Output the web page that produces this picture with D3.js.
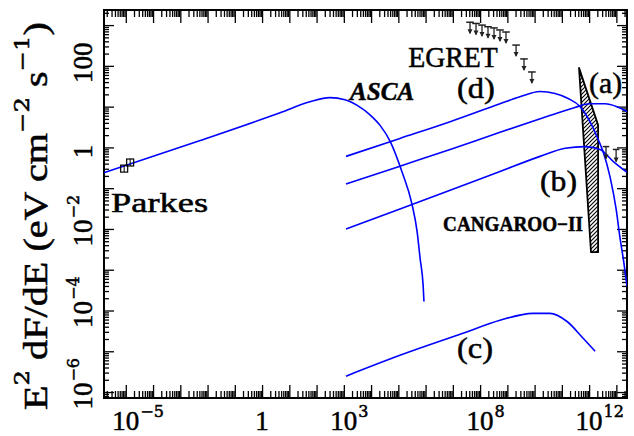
<!DOCTYPE html>
<html><head><meta charset="utf-8">
<script src="https://cdn.jsdelivr.net/npm/d3@7"></script>
<style>body{margin:0;background:#fff}svg{display:block}</style>
</head><body>
<svg id="chart" width="634" height="436"></svg>
<script>
// All values are log10: photon energy E in eV, E^2 dF/dE in eV cm^-2 s^-1.
const xTickExps = [-5, 0, 3, 8, 12];
const yTickExps = [2, 0, -2, -4, -6];

// Radio points (Parkes)
const parkesLogE = [-5.06, -4.84];
const parkesLogF = [-0.52, -0.37];

// Synchrotron model through the radio and ASCA X-ray data
const syncLogE = [-5.80, -2.27, 0.66, 1.76, 2.49, 3.04, 3.52, 3.96, 4.33, 4.70, 5.14, 5.50, 5.69, 5.80, 5.91, 5.94];
const syncLogF = [-0.62, 0.17, 0.85, 1.12, 1.22, 1.17, 1.02, 0.80, 0.54, 0.15, -0.61, -1.39, -2.07, -2.73, -3.39, -3.78];

// Inverse-Compton models (a)-(d)
const icDLogE = [3.08, 5.06, 6.90, 8.73, 9.46, 10.20, 10.75, 11.23, 11.67, 12.03, 12.33, 12.51, 12.77, 12.99, 13.13, 13.28, 13.39];
const icDLogF = [-0.22, 0.22, 0.63, 1.07, 1.24, 1.37, 1.32, 1.20, 1.00, 0.63, 0.20, -0.10, -0.73, -1.51, -2.20, -2.85, -3.41];

const icALogE = [3.08, 5.06, 6.90, 8.73, 10.56, 11.48, 12.03, 12.58, 13.02, 13.39];
const icALogF = [-0.90, -0.46, -0.05, 0.37, 0.78, 0.98, 1.07, 1.07, 1.00, 0.88];

const icBLogE = [3.08, 5.06, 6.90, 8.73, 10.20, 11.12, 11.85, 12.40, 12.88, 13.39];
const icBLogF = [-2.00, -1.51, -1.05, -0.59, -0.22, -0.02, 0.02, -0.05, -0.34, -0.61];

const icCLogE = [3.08, 5.06, 7.37, 8.73, 9.94, 10.56, 11.19, 11.78, 12.22];
const icCLogF = [-5.61, -5.10, -4.56, -4.24, -4.07, -4.07, -4.27, -4.68, -5.00];

// EGRET upper limits
const egretLogE = [7.63, 7.85, 8.07, 8.29, 8.51, 8.73, 8.95, 9.32, 9.61, 9.90];
const egretLogF = [3.07, 3.04, 3.00, 2.96, 2.93, 2.88, 2.83, 2.51, 2.17, 1.85];

// Other TeV upper limits
const tevLimLogE = [12.62, 12.99];
const tevLimLogF = [0.02, -0.05];

// CANGAROO-II allowed region outline
const cangLogE = [11.63, 12.33, 12.33, 12.07];
const cangLogF = [1.95, 0.55, -2.57, -2.57];

const svg = d3.select('#chart');
const frame = {x0: 104, x1: 627, y0: 10, y1: 398};
const pw = v => Math.pow(10, v);

const x = d3.scaleLog().domain([pw(-5.8), pw(13.39)]).range([frame.x0, frame.x1]);
const y = d3.scaleLog().domain([pw(-6.146), pw(3.37)]).range([frame.y1, frame.y0]);

const serif = "'Liberation Serif', 'Times New Roman', serif";
const supFont = "'DejaVu Serif', serif";

// ---- ticks on all four sides, pointing inward
function logTicks(scale) {
  const [a, b] = scale.domain().map(Math.log10);
  const major = [], minor = [];
  for (let e = Math.floor(a); e <= Math.ceil(b); e++) {
    if (e >= a && e <= b) major.push(pw(e));
    for (let m = 2; m <= 9; m++) {
      const v = m * pw(e);
      if (Math.log10(v) >= a && Math.log10(v) <= b) minor.push(v);
    }
  }
  return {major, minor};
}
const xt = logTicks(x), yt = logTicks(y);

function drawAxis(axisGen, tr, ticks, big, small) {
  [[ticks.major, big], [ticks.minor, small]].forEach(([vals, len]) => {
    const g = svg.append('g').attr('transform', tr)
      .call(axisGen.tickValues(vals).tickSize(-len).tickFormat(''));
    g.select('.domain').remove();
    g.selectAll('line').attr('stroke', '#000').attr('stroke-width', 1.3);
  });
}
drawAxis(d3.axisBottom(x), `translate(0,${frame.y1})`, xt, 13, 7);
drawAxis(d3.axisTop(x), `translate(0,${frame.y0})`, xt, 13, 7);
drawAxis(d3.axisLeft(y), `translate(${frame.x0},0)`, yt, 10, 5);
drawAxis(d3.axisRight(y), `translate(${frame.x1},0)`, yt, 10, 5);

svg.append('rect')
  .attr('x', frame.x0).attr('y', frame.y0)
  .attr('width', frame.x1 - frame.x0).attr('height', frame.y1 - frame.y0)
  .attr('fill', 'none').attr('stroke', '#000').attr('stroke-width', 2);

// ---- tick labels (10 with raised exponent)
function powerLabel(g, e) {
  if (e === 0 || e === 2) {
    g.append('text').attr('text-anchor', 'middle').attr('class', 'lbl')
      .attr('font-family', serif).attr('font-size', 27).text(e === 0 ? '1' : '100');
    return;
  }
  const base = g.append('text').attr('text-anchor', 'middle').attr('class', 'lbl')
    .attr('font-family', serif).attr('font-size', 27).text('10');
  const hw = base.node().getComputedTextLength() / 2;
  g.append('text').attr('x', hw + 1).attr('y', -13).attr('class', 'lbl')
    .attr('font-family', supFont).attr('font-size', 16)
    .text(e < 0 ? '\u2212' + (-e) : String(e));
}
xTickExps.forEach(e => {
  const g = svg.append('g').attr('transform', `translate(${x(pw(e))},430)`);
  powerLabel(g, e);
});
yTickExps.forEach(e => {
  const off = e > 0 ? -3 : 4;
  const g = svg.append('g').attr('transform', `translate(92,${y(pw(e)) + off}) rotate(-90)`);
  powerLabel(g, e);
});

// ---- y-axis title
const title = svg.append('g').attr('transform', 'translate(47,410) rotate(-90)')
  .append('text').attr('font-family', serif).attr('font-size', 33).attr('class', 'lbl');
[['E', 0], ['2', 1], [' dF/dE (eV cm', 0], ['\u22122', 1], [' s', 0], ['\u22121', 1], [')', 0]]
  .forEach(([t, sup], i, arr) => {
    const prevSup = i > 0 && arr[i - 1][1];
    const ts = title.append('tspan').text(t);
    if (sup) ts.attr('font-size', 20).attr('font-family', supFont).attr('dy', -18);
    else if (prevSup) ts.attr('dy', 18);
  });
(function fit(sel, target) {
  const w = sel.node().getBBox().width;
  sel.attr('transform', `scale(${target / w},1)`);
})(title, 388);

// ---- plot contents, clipped to the frame
svg.append('clipPath').attr('id', 'plotClip').append('rect')
  .attr('x', frame.x0).attr('y', frame.y0)
  .attr('width', frame.x1 - frame.x0).attr('height', frame.y1 - frame.y0);
const plot = svg.append('g').attr('clip-path', 'url(#plotClip)');

const line = d3.line().x(d => x(pw(d[0]))).y(d => y(pw(d[1]))).curve(d3.curveMonotoneX);
const zip = (a, b) => a.map((v, i) => [v, b[i]]);

// CANGAROO-II hatched region
const defs = svg.append('defs');
defs.append('pattern').attr('id', 'hatch').attr('patternUnits', 'userSpaceOnUse')
  .attr('width', 4).attr('height', 4)
  .append('path').attr('d', 'M-1,1 l2,-2 M0,4 l4,-4 M3,5 l2,-2')
  .attr('stroke', '#000').attr('stroke-width', 1.1);
plot.append('path')
  .attr('d', d3.line().x(d => x(pw(d[0]))).y(d => y(pw(d[1])))(zip(cangLogE, cangLogF)) + 'Z')
  .attr('fill', 'url(#hatch)').attr('stroke', '#000').attr('stroke-width', 1.8)
  .attr('stroke-linejoin', 'round');

[[syncLogE, syncLogF], [icDLogE, icDLogF], [icALogE, icALogF], [icBLogE, icBLogF], [icCLogE, icCLogF]]
  .forEach(([e, f]) => {
    plot.append('path').attr('d', line(zip(e, f)))
      .attr('fill', 'none').attr('stroke', '#0000ff').attr('stroke-width', 1.6);
  });

// Upper-limit symbols: bin bar, stem and downward arrowhead
function upperLimits(es, fs, halfBin, stem) {
  es.forEach((e, i) => {
    const cx = x(pw(e)), cy = y(pw(fs[i]));
    const g = plot.append('g').attr('stroke', '#222').attr('fill', '#222');
    g.append('line').attr('x1', x(pw(e - halfBin))).attr('x2', x(pw(e + halfBin)))
      .attr('y1', cy).attr('y2', cy).attr('stroke-width', 1.5);
    g.append('line').attr('x1', cx).attr('x2', cx).attr('y1', cy).attr('y2', cy + stem)
      .attr('stroke-width', 1.3);
    g.append('path').attr('d', `M${cx - 2.5},${cy + stem - 4} L${cx + 2.5},${cy + stem - 4} L${cx},${cy + stem + 1} Z`)
      .attr('stroke', 'none');
  });
}
upperLimits(egretLogE, egretLogF, 0.14, 11);
upperLimits(tevLimLogE, tevLimLogF, 0.12, 12);

// Parkes points
parkesLogE.forEach((e, i) => {
  const cx = x(pw(e)), cy = y(pw(parkesLogF[i]));
  plot.append('rect').attr('x', cx - 3.5).attr('y', cy - 3.5).attr('width', 7).attr('height', 7)
    .attr('fill', 'none').attr('stroke', '#000').attr('stroke-width', 1.2);
  plot.append('line').attr('x1', cx).attr('x2', cx).attr('y1', cy - 3.5).attr('y2', cy + 3.5)
    .attr('stroke', '#000').attr('stroke-width', 1);
});

// ---- annotations (left edge / baseline given in data space)
const notes = [
  {t: 'Parkes', e: -5.54, f: -1.59, size: 28, w: 97},
  {t: 'ASCA', e: 3.23, f: 1.17, size: 26, w: 66, style: 'italic', weight: 'bold'},
  {t: 'EGRET', e: 5.36, f: 1.98, size: 29, w: 90},
  {t: '(d)', e: 7.15, f: 1.22, size: 30, w: 38},
  {t: '(a)', e: 12.0, f: 1.34, size: 30, w: 33},
  {t: '(b)', e: 10.20, f: -1.07, size: 30, w: 37},
  {t: 'CANGAROO\u2212II', e: 6.64, f: -2.05, size: 21, w: 140, weight: 'bold'},
  {t: '(c)', e: 7.15, f: -5.17, size: 30, w: 36}
];
notes.forEach(n => {
  const txt = svg.append('g').attr('transform', `translate(${x(pw(n.e))},${y(pw(n.f))})`)
    .append('text').attr('font-family', serif).attr('font-size', n.size).attr('class', 'lbl')
    .attr('font-style', n.style || 'normal').attr('font-weight', n.weight || 'normal')
    .text(n.t);
  const w = txt.node().getBBox().width;
  txt.attr('transform', `scale(${n.w / w},1)`);
});

// Heavier strokes for lettering
svg.selectAll('text.lbl').attr('stroke', '#000').attr('stroke-width', 0.5).attr('fill', '#000');
</script>
</body></html>
